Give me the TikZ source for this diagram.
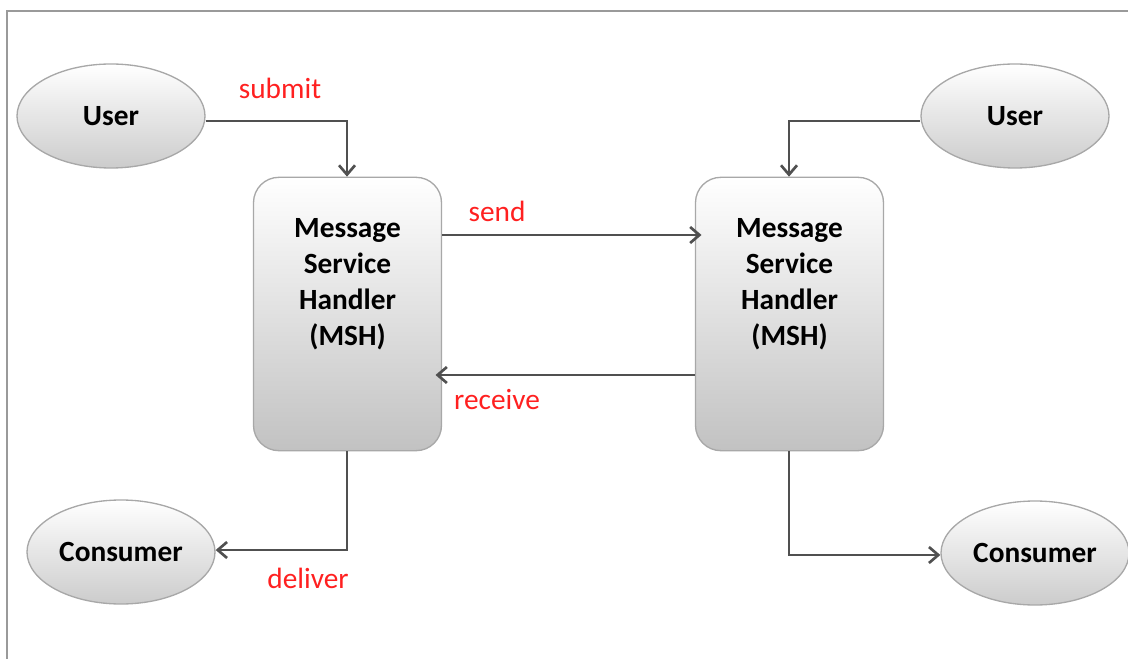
\documentclass[tikz,border=0pt]{standalone}
\usepackage{fontspec}
\setmainfont{Carlito}
\usetikzlibrary{arrows.meta,shapes.geometric}
\definecolor{framegray}{HTML}{9A9A9A}
\definecolor{edgegray}{HTML}{A8A8A8}
\definecolor{arrowgray}{HTML}{505050}
\definecolor{labelred}{HTML}{FF2020}
\tikzset{
  actor/.style={ellipse, draw=edgegray, line width=1pt, top color=white, bottom color=black!20,
    minimum width=141pt, minimum height=78pt, inner sep=0pt, font=\fontsize{22}{27}\selectfont\bfseries},
  msh/.style={rectangle, rounded corners=19pt, draw=edgegray, line width=1pt, top color=white, bottom color=black!24,
    minimum width=141pt, minimum height=205pt, inner sep=0pt},
  mshtext/.style={align=center, font=\fontsize{22}{27}\selectfont\bfseries, inner sep=0pt},
  flow/.style={draw=arrowgray, line width=2.2pt, -{Straight Barb[length=7pt,width=12pt,line width=2pt]}},
  lbl/.style={text=labelred, font=\fontsize{22}{27}\selectfont, inner sep=0pt}
}
\begin{document}
\begin{tikzpicture}[x=0.75pt,y=-0.75pt]
\useasboundingbox (0,0) rectangle (1128,659);
\draw[framegray, line width=1.6pt] (7,659) -- (7,11) -- (1128,11);
% nodes
\node[actor] (userL) at (111,116) {User};
\node[actor] (userR) at (1015,116) {User};
\node[actor] (consL) at (121,552) {Consumer};
\node[actor] (consR) at (1035,553) {Consumer};
\node[msh] (mshL) at (347.5,314) {};
\node[msh] (mshR) at (789.5,314) {};
\node[mshtext] (tL) at (347.5,284) {Message\\Service\\Handler\\(MSH)};
\node[mshtext] (tR) at (789.5,284) {Message\\Service\\Handler\\(MSH)};
% connectors
\coordinate (c1) at (347,121);
\coordinate (c2) at (789,121);
\coordinate (c3) at (347,550);
\coordinate (c4) at (789,555);
\draw[flow] (userL.east |- c1) -- (c1) -- (c1 |- mshL.north);
\draw[flow] (userR.west |- c2) -- (c2) -- (c2 |- mshR.north);
\draw[flow, shorten >=-5pt] (mshL.east |- 0,235) -- (mshR.west |- 0,235);
\draw[flow, shorten >=-5pt] (mshR.west |- 0,375) -- (mshL.east |- 0,375);
\draw[flow] (c3 |- mshL.south) -- (c3) -- (consL.east |- c3);
\draw[flow] (c4 |- mshR.south) -- (c4) -- (consR.west |- c4);
% labels
\node[lbl] (lsubmit) at (280,88) {submit};
\node[lbl] (lsend) at (497,211) {send};
\node[lbl] (lreceive) at (497,400) {receive};
\node[lbl] (ldeliver) at (308,578) {deliver};
\end{tikzpicture}
\end{document}
